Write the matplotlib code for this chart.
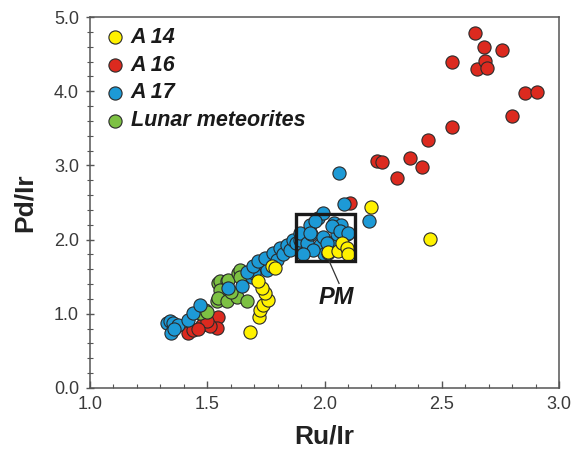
import matplotlib
matplotlib.use("Agg")
import matplotlib.pyplot as plt
from matplotlib.patches import Rectangle
from matplotlib.ticker import MultipleLocator, FormatStrFormatter

plt.rcParams['font.family'] = ['Liberation Sans', 'DejaVu Sans']

# ---------------- data ----------------
a14_ru = [1.682, 1.722, 1.725, 1.739, 1.760, 1.746, 1.732, 1.718, 1.775, 1.789,
          2.016, 2.059, 2.073, 2.095, 2.100, 2.198, 2.450]
a14_pd = [0.76, 0.96, 1.05, 1.12, 1.19, 1.28, 1.35, 1.44, 1.64, 1.62,
          1.83, 1.84, 1.96, 1.89, 1.80, 2.44, 2.01]

a16_ru = [1.419, 1.440, 1.476, 1.519, 1.547, 1.540, 1.512, 1.497, 1.460,
          2.109, 2.225, 2.244, 2.310, 2.365, 2.414, 2.441, 2.545, 2.545,
          2.642, 2.650, 2.680, 2.686, 2.694, 2.757, 2.800, 2.857, 2.905]
a16_pd = [0.74, 0.78, 0.85, 0.92, 0.96, 0.81, 0.83, 0.90, 0.80,
          2.50, 3.06, 3.05, 2.83, 3.10, 2.98, 3.34, 3.52, 4.40,
          4.79, 4.30, 4.59, 4.41, 4.31, 4.56, 3.67, 3.97, 3.99]

a17_ru = [1.327, 1.340, 1.355, 1.345, 1.377, 1.419, 1.440, 1.469, 1.360,
          1.590, 1.647, 1.689, 1.711, 1.739, 1.768, 1.754, 1.700,
          1.668, 1.696, 1.718, 1.746, 1.782, 1.796, 1.810, 1.824, 1.839,
          1.853, 1.867, 1.880, 1.896, 1.896, 1.938, 1.974, 1.995,
          1.924, 1.941, 1.959, 1.981, 1.995, 1.998, 2.023, 2.040, 2.052,
          2.095, 1.952, 1.910, 2.070, 2.030, 2.066, 2.100, 1.938, 2.009,
          2.016, 2.061, 2.083, 2.191]
a17_pd = [0.87, 0.90, 0.87, 0.74, 0.85, 0.92, 1.01, 1.12, 0.80,
          1.35, 1.38, 1.50, 1.62, 1.69, 1.73, 1.59, 1.55,
          1.57, 1.64, 1.71, 1.75, 1.82, 1.73, 1.89, 1.80, 1.93,
          1.86, 2.00, 1.95, 2.00, 2.09, 2.20, 2.29, 2.36,
          1.96, 2.08, 2.25, 1.93, 2.04, 1.80, 1.96, 2.23, 2.08,
          2.08, 1.86, 1.80, 2.20, 2.18, 2.11, 2.09, 2.09, 1.96,
          1.82, 2.90, 2.48, 2.25]

lm_ru = [1.490, 1.469, 1.497, 1.547, 1.554, 1.583, 1.590, 1.633, 1.640, 1.640,
         1.554, 1.540, 1.547, 1.583, 1.626, 1.668, 1.600]
lm_pd = [1.05, 1.01, 1.03, 1.41, 1.44, 1.44, 1.46, 1.55, 1.59, 1.50,
         1.32, 1.17, 1.21, 1.17, 1.23, 1.17, 1.30]

pm_box = (1.88, 1.71, 2.13, 2.34)   # x0, y0, x1, y1
pm_label = "PM"

# ---------------- figure ----------------
fig = plt.figure(figsize=(5.85, 4.58), dpi=100)
ax = fig.add_axes([90/585, 1-388/458, (559-90)/585, (388-17)/458])

ms = 90
ec = '#2a2a2a'
lw = 0.8
cols = {'A 14': '#FFF200', 'A 16': '#DC2A1F', 'A 17': '#1D9AD6',
        'Lunar meteorites': '#7DC143'}

h14 = ax.scatter(a14_ru, a14_pd, s=ms, c=cols['A 14'], edgecolors=ec, linewidths=lw, zorder=6, label='A 14')
h16 = ax.scatter(a16_ru, a16_pd, s=ms, c=cols['A 16'], edgecolors=ec, linewidths=lw, zorder=3, label='A 16')
h17 = ax.scatter(a17_ru, a17_pd, s=ms, c=cols['A 17'], edgecolors=ec, linewidths=lw, zorder=5, label='A 17')
hlm = ax.scatter(lm_ru, lm_pd, s=ms, c=cols['Lunar meteorites'], edgecolors=ec, linewidths=lw, zorder=4,
                 label='Lunar meteorites')

x0, y0, x1, y1 = pm_box
ax.add_patch(Rectangle((x0, y0), x1 - x0, y1 - y0, fill=False, ec='#1a1a1a', lw=2.4, zorder=7))
ax.plot([2.02, 2.062], [y0, 1.41], color='#333333', lw=0.9, zorder=7)
ax.text(2.052, 1.22, pm_label, fontsize=17, fontweight='bold', fontstyle='italic',
        ha='center', va='center', color='#1a1a1a', zorder=7)

ax.set_xlim(1.0, 3.0)
ax.set_ylim(0.0, 5.0)
ax.xaxis.set_major_locator(MultipleLocator(0.5))
ax.xaxis.set_minor_locator(MultipleLocator(0.1))
ax.yaxis.set_major_locator(MultipleLocator(1.0))
ax.yaxis.set_minor_locator(MultipleLocator(0.2))
ax.xaxis.set_major_formatter(FormatStrFormatter('%.1f'))
ax.yaxis.set_major_formatter(FormatStrFormatter('%.1f'))

for s in ax.spines.values():
    s.set_color('#555555')
    s.set_linewidth(1.1)

ax.tick_params(axis='x', which='major', direction='in', length=5, width=1, color='#555555',
               labelsize=13, labelcolor='#3a3a3a', pad=6)
ax.tick_params(axis='x', which='minor', direction='in', length=3, width=0.8, color='#555555')
ax.tick_params(axis='y', which='major', direction='inout', length=6, width=1, color='#555555',
               labelsize=13, labelcolor='#3a3a3a', pad=5)
ax.tick_params(axis='y', which='minor', direction='inout', length=4, width=0.8, color='#555555')

ax.set_xlabel('Ru/Ir', fontsize=19, fontweight='bold', color='#222222', labelpad=8)
ax.set_ylabel('Pd/Ir', fontsize=19, fontweight='bold', color='#222222', labelpad=12)

leg = ax.legend(handles=[h14, h16, h17, hlm], loc='upper left', frameon=False,
                prop={'size': 15.5, 'weight': 'bold', 'style': 'italic'},
                handletextpad=0.05, labelspacing=0.32, borderaxespad=0.25,
                borderpad=0.2, handlelength=1.4, scatterpoints=1)
for t in leg.get_texts():
    t.set_color('#1a1a1a')

fig.savefig('out.png', dpi=100)
